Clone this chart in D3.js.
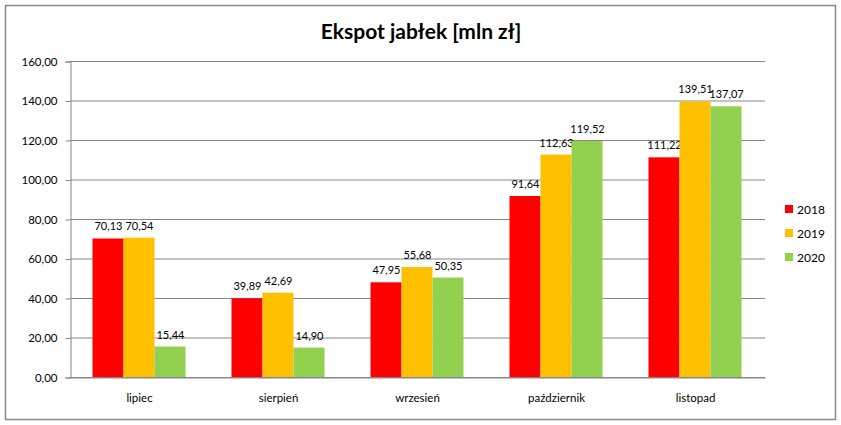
<!DOCTYPE html>
<html><head><meta charset="utf-8">
<script src="https://cdn.jsdelivr.net/npm/d3@7"></script>
<style>body{margin:0;background:#fff}svg{display:block}text{font-family:Lato,"Open Sans",sans-serif}</style>
</head><body>
<svg id="c" width="841" height="425"></svg>
<script>
const categories = ["lipiec","sierpień","wrzesień","październik","listopad"];
const seriesNames = ["2018","2019","2020"];
const s2018 = [70.13,39.89,47.95,91.64,111.22];
const s2019 = [70.54,42.69,55.68,112.63,139.51];
const s2020 = [15.44,14.90,50.35,119.52,137.07];
const yTicks = [0,20,40,60,80,100,120,140,160];
const colors = ["#ff0000","#ffc000","#92d050"];
const series = [s2018,s2019,s2020];

const svg = d3.select("#c");
const m = {left:70,right:765,top:61,bottom:377};
svg.append("rect").attr("x",5.5).attr("y",5.5).attr("width",830).attr("height",414)
  .attr("fill","#fff").attr("stroke","#888").attr("stroke-width",1.5);

svg.append("text").attr("x",421).attr("y",39).attr("text-anchor","middle")
  .attr("font-size",21).attr("font-weight","bold").attr("fill","#000").text("Ekspot jabłek [mln zł]");

const x = d3.scaleBand().domain(categories).range([m.left,m.right]);
const x1 = d3.scaleBand().domain(seriesNames).range([0,93]);
const y = d3.scaleLinear().domain([0,160]).range([m.bottom,m.top]);
const fmt = v => d3.format(".2f")(v).replace(".",",");

// gridlines
svg.append("g").selectAll("line").data(yTicks).join("line")
  .attr("x1",m.left).attr("x2",m.right).attr("y1",d=>y(d)+0.5).attr("y2",d=>y(d)+0.5)
  .attr("stroke","#868686").attr("stroke-width",1);

// y axis
const ya = svg.append("g").attr("transform",`translate(${m.left+0.5},0.5)`)
  .call(d3.axisLeft(y).tickValues(yTicks).tickFormat(fmt).tickSize(5).tickPadding(8));
ya.select(".domain").attr("stroke","#868686");
ya.selectAll(".tick line").attr("stroke","#868686");
ya.selectAll("text").attr("font-size",11.5).attr("fill","#000").attr("font-family","Lato,sans-serif");

// x axis
const xa = svg.append("g").attr("transform",`translate(0,${m.bottom+0.5})`)
  .call(d3.axisBottom(x).tickSize(0).tickPadding(16));
xa.select(".domain").attr("stroke","#868686");
xa.selectAll("text").attr("font-size",11.5).attr("fill","#000").attr("font-family","Lato,sans-serif");

// bars
const g = svg.append("g");
series.forEach((vals,si)=>{
  const sn = seriesNames[si];
  g.selectAll(".b"+si).data(vals).join("rect")
    .attr("x",(d,i)=>x(categories[i])+(x.bandwidth()-93)/2+x1(sn)-0.5)
    .attr("width",x1.bandwidth())
    .attr("y",d=>y(d)).attr("height",d=>y(0)-y(d))
    .attr("fill",colors[si]);
  g.selectAll(".l"+si).data(vals).join("text")
    .attr("x",(d,i)=>x(categories[i])+(x.bandwidth()-93)/2+x1(sn)+x1.bandwidth()/2)
    .attr("y",d=>y(d)-8).attr("text-anchor","middle").attr("font-size",11)
    .attr("fill","#000").text(d=>fmt(d));
});

// legend
const lg = svg.append("g");
seriesNames.forEach((n,i)=>{
  lg.append("rect").attr("x",785).attr("y",205+i*24).attr("width",8).attr("height",8).attr("fill",colors[i]);
  lg.append("text").attr("x",797).attr("y",213.5+i*24).attr("font-size",12).attr("fill","#000").text(n);
});
</script>
</body></html>
